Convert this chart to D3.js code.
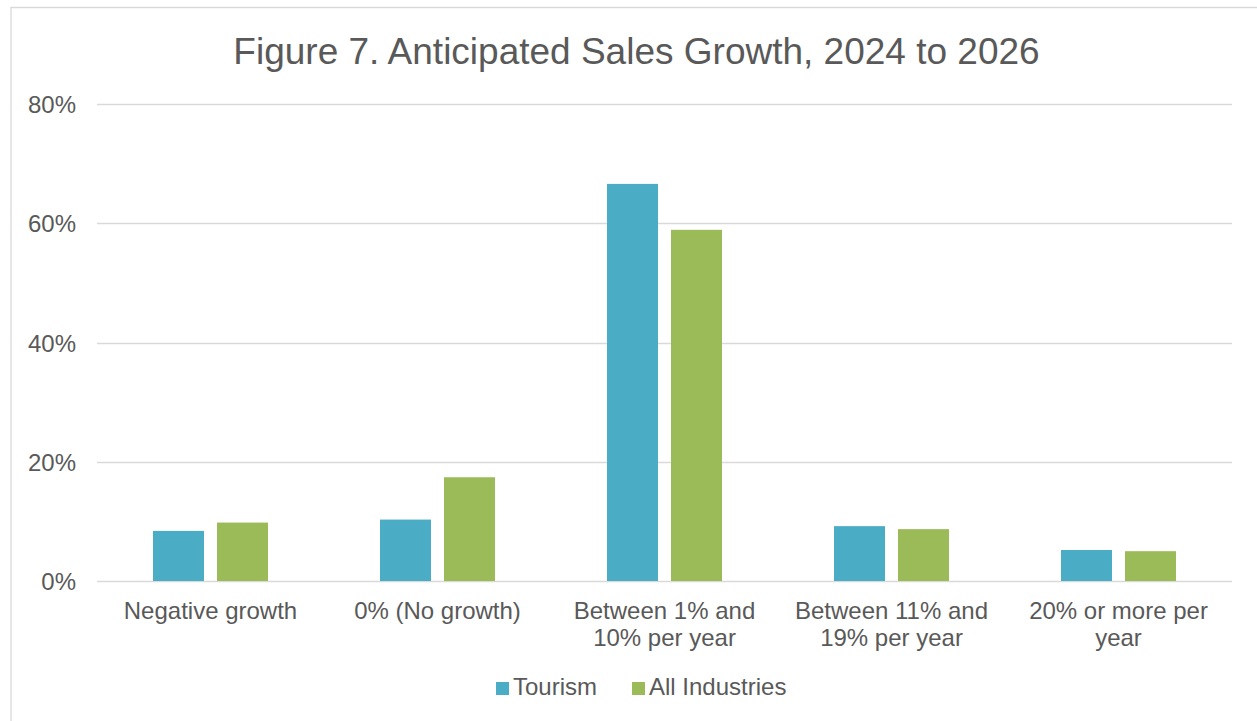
<!DOCTYPE html>
<html>
<head>
<meta charset="utf-8">
<script src="https://cdn.jsdelivr.net/npm/d3@7"></script>
<style>
  html, body { margin: 0; padding: 0; background: #ffffff; }
  svg { display: block; }
  text { font-family: "Liberation Sans", Arial, sans-serif; fill: #595959; }
</style>
</head>
<body>
<svg id="chart" width="1257" height="721"></svg>
<script>
// Anticipated sales growth, share of businesses by category
const categories = [
  "Negative growth",
  "0% (No growth)",
  "Between 1% and 10% per year",
  "Between 11% and 19% per year",
  "20% or more per year"
];
const seriesNames = ["Tourism", "All Industries"];
const tourism = [0.084, 0.103, 0.666, 0.092, 0.052];
const allIndustries = [0.098, 0.174, 0.589, 0.087, 0.050];
const yTicks = [0, 0.2, 0.4, 0.6, 0.8];
const titleText = "Figure 7. Anticipated Sales Growth, 2024 to 2026";

const colors = { "Tourism": "#4bacc6", "All Industries": "#9bbb59" };
const seriesValues = { "Tourism": tourism, "All Industries": allIndustries };

const W = 1257, H = 721;
const plot = { left: 97, right: 1232, top: 104, bottom: 581 };

const svg = d3.select("#chart");

// chart frame (top and left edges visible)
svg.append("path")
  .attr("d", `M11,${H} L11,7.5 L${W},7.5`)
  .attr("fill", "none")
  .attr("stroke", "#d9d9d9")
  .attr("stroke-width", 1.3);

// title
svg.append("text")
  .attr("x", 636.5)
  .attr("y", 63.5)
  .attr("text-anchor", "middle")
  .style("font-size", "37px")
  .text(titleText);

const x0 = d3.scaleBand()
  .domain(categories)
  .range([plot.left, plot.right])
  .paddingInner(0)
  .paddingOuter(0);

const groupWidth = 115;
const x1 = d3.scaleBand()
  .domain(seriesNames)
  .range([(x0.bandwidth() - groupWidth) / 2, (x0.bandwidth() + groupWidth) / 2])
  .paddingInner(13 / 64)
  .paddingOuter(0);

const y = d3.scaleLinear()
  .domain([0, 0.8])
  .range([plot.bottom, plot.top]);

// horizontal gridlines
svg.append("g")
  .selectAll("line")
  .data(yTicks)
  .join("line")
  .attr("x1", plot.left)
  .attr("x2", plot.right)
  .attr("y1", d => Math.round(y(d)) + 0.5)
  .attr("y2", d => Math.round(y(d)) + 0.5)
  .attr("stroke", "#d9d9d9")
  .attr("stroke-width", 1.3);

// y-axis labels
const yAxis = d3.axisLeft(y)
  .tickValues(yTicks)
  .tickFormat(d3.format(".0%"))
  .tickSize(0)
  .tickPadding(21);
const yAxisG = svg.append("g")
  .attr("transform", `translate(${plot.left},0)`)
  .call(yAxis);
yAxisG.select(".domain").remove();
yAxisG.selectAll("text")
  .style("font-size", "24px")
  .style("font-family", "'Liberation Sans', Arial, sans-serif")
  .attr("fill", "#595959")
  .attr("dy", "0.36em");

// bars
const groups = svg.append("g")
  .selectAll("g")
  .data(categories)
  .join("g")
  .attr("transform", d => `translate(${x0(d)},0)`);

groups.selectAll("rect")
  .data((c, i) => seriesNames.map(s => ({ series: s, value: seriesValues[s][i] })))
  .join("rect")
  .attr("x", d => x1(d.series))
  .attr("width", x1.bandwidth())
  .attr("y", d => y(d.value))
  .attr("height", d => y(0) - y(d.value))
  .attr("fill", d => colors[d.series]);

// category labels, wrapped to fit each band
const xAxis = d3.axisBottom(x0).tickSize(0).tickPadding(0);
const xAxisG = svg.append("g")
  .attr("transform", `translate(0,${plot.bottom})`)
  .call(xAxis);
xAxisG.select(".domain").remove();
xAxisG.selectAll("text")
  .style("font-size", "24px")
  .style("font-family", "'Liberation Sans', Arial, sans-serif")
  .attr("fill", "#595959")
  .attr("y", 0)
  .attr("dy", null)
  .each(function(label) {
    const t = d3.select(this);
    const words = label.split(" ");
    t.text(null);
    const maxW = 215;
    const lines = [];
    let line = [];
    let tspan = t.append("tspan");
    words.forEach(w => {
      line.push(w);
      tspan.text(line.join(" "));
      if (tspan.node().getComputedTextLength() > maxW && line.length > 1) {
        line.pop();
        lines.push(line.join(" "));
        line = [w];
        tspan.text(w);
      }
    });
    lines.push(line.join(" "));
    t.text(null);
    lines.forEach((l, i) => {
      t.append("tspan")
        .attr("x", 0)
        .attr("y", 38 + i * 27)
        .text(l);
    });
  });

// legend
const legendItems = [
  { name: "Tourism", sx: 496, tx: 513 },
  { name: "All Industries", sx: 632, tx: 649 }
];
const legend = svg.append("g");
legend.selectAll("rect")
  .data(legendItems)
  .join("rect")
  .attr("x", d => d.sx)
  .attr("y", 682)
  .attr("width", 13)
  .attr("height", 13)
  .attr("fill", d => colors[d.name]);
legend.selectAll("text")
  .data(legendItems)
  .join("text")
  .attr("x", d => d.tx)
  .attr("y", 695)
  .style("font-size", "24px")
  .text(d => d.name);
</script>
</body>
</html>
